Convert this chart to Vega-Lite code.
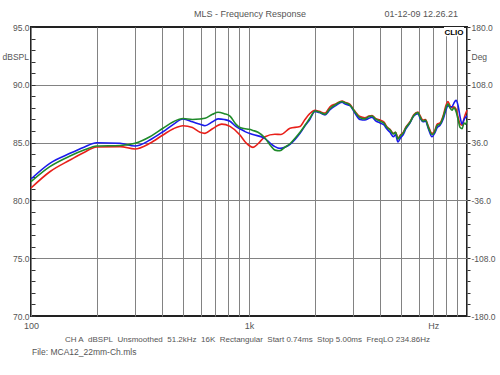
{
  "$schema": "https://vega.github.io/schema/vega-lite/v6.json",
  "width": 436,
  "height": 289,
  "autosize": {"type": "none"},
  "padding": {"left": 31, "top": 27, "right": 33, "bottom": 59},
  "background": "white",
  "config": {
    "view": {"stroke": "#222222", "strokeWidth": 2},
    "axis": {"labelFont": "Liberation Sans", "titleFont": "Liberation Sans", "labelColor": "#555555", "titleColor": "#555555", "labelFontSize": 9, "titleFontSize": 9, "titleFontWeight": "normal", "domain": false}
  },
  "layer": [
    {
      "layer": [
        {
          "data": {"values": [
            {"f":100,"db":81.07,"ch":"R"},{"f":122,"db":82.48,"ch":"R"},{"f":151,"db":83.49,"ch":"R"},{"f":175,"db":84.15,"ch":"R"},{"f":200,"db":84.62,"ch":"R"},{"f":256,"db":84.65,"ch":"R"},{"f":300,"db":84.45,"ch":"R"},{"f":351,"db":84.94,"ch":"R"},{"f":403,"db":85.66,"ch":"R"},{"f":450,"db":86.2,"ch":"R"},{"f":498,"db":86.46,"ch":"R"},{"f":550,"db":86.3,"ch":"R"},{"f":596,"db":85.89,"ch":"R"},{"f":628,"db":85.8,"ch":"R"},{"f":680,"db":86.2,"ch":"R"},{"f":750,"db":86.6,"ch":"R"},{"f":818,"db":86.4,"ch":"R"},{"f":909,"db":85.66,"ch":"R"},{"f":959,"db":85.08,"ch":"R"},{"f":1000,"db":84.75,"ch":"R"},{"f":1043,"db":84.59,"ch":"R"},{"f":1100,"db":84.9,"ch":"R"},{"f":1184,"db":85.51,"ch":"R"},{"f":1315,"db":85.72,"ch":"R"},{"f":1400,"db":85.7,"ch":"R"},{"f":1542,"db":86.24,"ch":"R"},{"f":1714,"db":86.4,"ch":"R"},{"f":1806,"db":87.0,"ch":"R"},{"f":1900,"db":87.5,"ch":"R"},{"f":2008,"db":87.8,"ch":"R"},
            {"f":2100,"db":87.7,"ch":"R"},{"f":2232,"db":87.55,"ch":"R"},{"f":2353,"db":88.1,"ch":"R"},{"f":2500,"db":88.35,"ch":"R"},{"f":2673,"db":88.6,"ch":"R"},{"f":2750,"db":88.5,"ch":"R"},{"f":2905,"db":88.3,"ch":"R"},{"f":3050,"db":87.75,"ch":"R"},{"f":3231,"db":87.25,"ch":"R"},{"f":3400,"db":87.15,"ch":"R"},{"f":3550,"db":87.3,"ch":"R"},{"f":3667,"db":87.35,"ch":"R"},{"f":3800,"db":87.1,"ch":"R"},{"f":3990,"db":86.95,"ch":"R"},{"f":4150,"db":86.8,"ch":"R"},{"f":4300,"db":86.35,"ch":"R"},{"f":4434,"db":86.15,"ch":"R"},{"f":4600,"db":85.8,"ch":"R"},{"f":4700,"db":85.9,"ch":"R"},{"f":4823,"db":85.4,"ch":"R"},{"f":4950,"db":85.65,"ch":"R"},{"f":5085,"db":85.85,"ch":"R"},{"f":5250,"db":86.35,"ch":"R"},{"f":5478,"db":86.8,"ch":"R"},{"f":5700,"db":87.4,"ch":"R"},{"f":5960,"db":87.65,"ch":"R"},{"f":6100,"db":87.3,"ch":"R"},{"f":6283,"db":86.95,"ch":"R"},{"f":6450,"db":87.0,"ch":"R"},{"f":6650,"db":86.4,"ch":"R"},{"f":6910,"db":85.8,"ch":"R"},{"f":7100,"db":86.0,"ch":"R"},{"f":7300,"db":86.6,"ch":"R"},{"f":7521,"db":86.7,"ch":"R"},{"f":7800,"db":87.4,"ch":"R"},{"f":8000,"db":88.2,"ch":"R"},{"f":8180,"db":88.55,"ch":"R"},{"f":8350,"db":88.2,"ch":"R"},{"f":8535,"db":88.0,"ch":"R"},{"f":8700,"db":88.1,"ch":"R"},{"f":8908,"db":87.9,"ch":"R"},{"f":9100,"db":87.2,"ch":"R"},{"f":9300,"db":86.6,"ch":"R"},{"f":9490,"db":86.5,"ch":"R"},{"f":9700,"db":87.1,"ch":"R"},{"f":9850,"db":87.5,"ch":"R"},{"f":10000,"db":87.8,"ch":"R"},
            {"f":100,"db":81.85,"ch":"B"},{"f":122,"db":83.21,"ch":"B"},{"f":151,"db":84.07,"ch":"B"},{"f":175,"db":84.6,"ch":"B"},{"f":200,"db":84.99,"ch":"B"},{"f":256,"db":84.94,"ch":"B"},{"f":300,"db":84.7,"ch":"B"},{"f":351,"db":85.22,"ch":"B"},{"f":403,"db":85.94,"ch":"B"},{"f":450,"db":86.58,"ch":"B"},{"f":498,"db":87.04,"ch":"B"},{"f":550,"db":86.8,"ch":"B"},{"f":596,"db":86.58,"ch":"B"},{"f":628,"db":86.46,"ch":"B"},{"f":680,"db":86.8,"ch":"B"},{"f":721,"db":87.05,"ch":"B"},{"f":770,"db":87.0,"ch":"B"},{"f":818,"db":86.85,"ch":"B"},{"f":870,"db":86.4,"ch":"B"},{"f":909,"db":86.2,"ch":"B"},{"f":959,"db":85.95,"ch":"B"},{"f":1043,"db":85.7,"ch":"B"},{"f":1184,"db":85.35,"ch":"B"},{"f":1260,"db":84.9,"ch":"B"},{"f":1315,"db":84.65,"ch":"B"},{"f":1387,"db":84.5,"ch":"B"},{"f":1460,"db":84.6,"ch":"B"},{"f":1542,"db":84.85,"ch":"B"},{"f":1630,"db":85.3,"ch":"B"},{"f":1714,"db":85.8,"ch":"B"},{"f":1806,"db":86.45,"ch":"B"},{"f":1900,"db":87.0,"ch":"B"},{"f":2008,"db":87.7,"ch":"B"},
            {"f":2100,"db":87.6,"ch":"B"},{"f":2232,"db":87.4,"ch":"B"},{"f":2353,"db":87.85,"ch":"B"},{"f":2500,"db":88.2,"ch":"B"},{"f":2673,"db":88.5,"ch":"B"},{"f":2750,"db":88.35,"ch":"B"},{"f":2905,"db":88.2,"ch":"B"},{"f":3050,"db":87.6,"ch":"B"},{"f":3231,"db":87.0,"ch":"B"},{"f":3400,"db":86.95,"ch":"B"},{"f":3550,"db":87.1,"ch":"B"},{"f":3667,"db":87.2,"ch":"B"},{"f":3800,"db":86.9,"ch":"B"},{"f":3990,"db":86.7,"ch":"B"},{"f":4150,"db":86.55,"ch":"B"},{"f":4300,"db":86.15,"ch":"B"},{"f":4434,"db":85.9,"ch":"B"},{"f":4600,"db":85.5,"ch":"B"},{"f":4700,"db":85.7,"ch":"B"},{"f":4823,"db":85.05,"ch":"B"},{"f":4950,"db":85.4,"ch":"B"},{"f":5085,"db":85.65,"ch":"B"},{"f":5250,"db":86.2,"ch":"B"},{"f":5478,"db":86.7,"ch":"B"},{"f":5700,"db":87.3,"ch":"B"},{"f":5960,"db":87.5,"ch":"B"},{"f":6100,"db":87.1,"ch":"B"},{"f":6283,"db":86.8,"ch":"B"},{"f":6450,"db":86.85,"ch":"B"},{"f":6650,"db":86.2,"ch":"B"},{"f":6910,"db":85.5,"ch":"B"},{"f":7100,"db":85.8,"ch":"B"},{"f":7300,"db":86.3,"ch":"B"},{"f":7521,"db":86.5,"ch":"B"},{"f":7800,"db":87.1,"ch":"B"},{"f":8000,"db":87.8,"ch":"B"},{"f":8180,"db":88.2,"ch":"B"},{"f":8350,"db":88.1,"ch":"B"},{"f":8535,"db":88.1,"ch":"B"},{"f":8700,"db":88.4,"ch":"B"},{"f":8908,"db":88.65,"ch":"B"},{"f":9100,"db":88.2,"ch":"B"},{"f":9300,"db":87.2,"ch":"B"},{"f":9490,"db":86.6,"ch":"B"},{"f":9700,"db":87.0,"ch":"B"},{"f":9850,"db":87.2,"ch":"B"},{"f":10000,"db":87.3,"ch":"B"},
            {"f":100,"db":81.62,"ch":"G"},{"f":122,"db":82.92,"ch":"G"},{"f":151,"db":83.84,"ch":"G"},{"f":175,"db":84.35,"ch":"G"},{"f":200,"db":84.71,"ch":"G"},{"f":256,"db":84.75,"ch":"G"},{"f":300,"db":84.94,"ch":"G"},{"f":351,"db":85.51,"ch":"G"},{"f":403,"db":86.24,"ch":"G"},{"f":450,"db":86.81,"ch":"G"},{"f":498,"db":87.08,"ch":"G"},{"f":550,"db":87.0,"ch":"G"},{"f":596,"db":87.04,"ch":"G"},{"f":628,"db":87.1,"ch":"G"},{"f":680,"db":87.45,"ch":"G"},{"f":721,"db":87.62,"ch":"G"},{"f":770,"db":87.5,"ch":"G"},{"f":818,"db":87.3,"ch":"G"},{"f":870,"db":86.6,"ch":"G"},{"f":909,"db":86.3,"ch":"G"},{"f":959,"db":86.2,"ch":"G"},{"f":1000,"db":86.15,"ch":"G"},{"f":1043,"db":86.05,"ch":"G"},{"f":1100,"db":85.9,"ch":"G"},{"f":1184,"db":85.4,"ch":"G"},{"f":1260,"db":84.7,"ch":"G"},{"f":1315,"db":84.35,"ch":"G"},{"f":1387,"db":84.3,"ch":"G"},{"f":1460,"db":84.6,"ch":"G"},{"f":1542,"db":84.9,"ch":"G"},{"f":1630,"db":85.4,"ch":"G"},{"f":1714,"db":85.9,"ch":"G"},{"f":1806,"db":86.5,"ch":"G"},{"f":1900,"db":87.1,"ch":"G"},{"f":2008,"db":87.73,"ch":"G"},
            {"f":2100,"db":87.65,"ch":"G"},{"f":2232,"db":87.45,"ch":"G"},{"f":2353,"db":87.95,"ch":"G"},{"f":2500,"db":88.3,"ch":"G"},{"f":2673,"db":88.55,"ch":"G"},{"f":2750,"db":88.45,"ch":"G"},{"f":2905,"db":88.25,"ch":"G"},{"f":3050,"db":87.7,"ch":"G"},{"f":3231,"db":87.15,"ch":"G"},{"f":3400,"db":87.05,"ch":"G"},{"f":3550,"db":87.25,"ch":"G"},{"f":3667,"db":87.3,"ch":"G"},{"f":3800,"db":87.05,"ch":"G"},{"f":3990,"db":86.85,"ch":"G"},{"f":4150,"db":86.7,"ch":"G"},{"f":4300,"db":86.3,"ch":"G"},{"f":4434,"db":86.1,"ch":"G"},{"f":4600,"db":85.75,"ch":"G"},{"f":4700,"db":85.9,"ch":"G"},{"f":4823,"db":85.3,"ch":"G"},{"f":4950,"db":85.6,"ch":"G"},{"f":5085,"db":85.8,"ch":"G"},{"f":5250,"db":86.3,"ch":"G"},{"f":5478,"db":86.75,"ch":"G"},{"f":5700,"db":87.35,"ch":"G"},{"f":5960,"db":87.6,"ch":"G"},{"f":6100,"db":87.2,"ch":"G"},{"f":6283,"db":86.85,"ch":"G"},{"f":6450,"db":86.95,"ch":"G"},{"f":6650,"db":86.3,"ch":"G"},{"f":6910,"db":85.7,"ch":"G"},{"f":7100,"db":85.9,"ch":"G"},{"f":7300,"db":86.5,"ch":"G"},{"f":7521,"db":86.6,"ch":"G"},{"f":7800,"db":87.3,"ch":"G"},{"f":8000,"db":88.0,"ch":"G"},{"f":8180,"db":88.35,"ch":"G"},{"f":8350,"db":88.0,"ch":"G"},{"f":8535,"db":87.8,"ch":"G"},{"f":8700,"db":88.0,"ch":"G"},{"f":8908,"db":87.7,"ch":"G"},{"f":9100,"db":87.0,"ch":"G"},{"f":9300,"db":86.3,"ch":"G"},{"f":9490,"db":86.2,"ch":"G"},{"f":9700,"db":86.7,"ch":"G"},{"f":9850,"db":86.6,"ch":"G"},{"f":10000,"db":86.9,"ch":"G"}
          ]},
          "mark": {"type": "line", "interpolate": "monotone", "strokeWidth": 1.6},
          "encoding": {
            "x": {"field": "f", "type": "quantitative",
              "scale": {"type": "log", "domain": [100, 10000], "nice": false},
              "axis": {
                "values": [100,200,300,400,500,600,700,800,900,1000,2000,3000,4000,5000,6000,7000,8000,9000,10000],
                "tickCount": 40,
                "labelExpr": "datum.value == 100 ? '100' : datum.value == 1000 ? '1k' : datum.value == 7000 ? 'Hz' : ''",
                "grid": true, "gridColor": "#828282", "gridWidth": 1,
                "ticks": false, "labelPadding": 5, "labelOverlap": false, "labelFlush": false, "labelBound": false,
                "title": "CH A\u00a0 dBSPL\u00a0 Unsmoothed\u00a0 51.2kHz\u00a0 16K\u00a0 Rectangular\u00a0 Start 0.74ms\u00a0 Stop 5.00ms\u00a0 FreqLO 234.86Hz",
                "titleX": 216, "titleY": 23, "titleAlign": "center", "titleBaseline": "middle", "titleFontSize": 8
              }
            },
            "y": {"field": "db", "type": "quantitative",
              "scale": {"domain": [70, 95], "nice": false, "zero": false},
              "axis": {
                "values": [70,71,72,73,74,75,76,77,78,79,80,81,82,83,84,85,86,87,88,89,90,91,92,93,94,95],
                "tickCount": 40,
                "labelExpr": "datum.value % 5 == 0 ? datum.value + '.0' : ''",
                "grid": true, "gridColor": "#828282",
                "gridOpacity": {"condition": {"test": "datum.value % 5 == 0 && datum.value > 70 && datum.value < 95", "value": 1}, "value": 0},
                "tickSize": -4, "tickColor": "#333333", "labelPadding": 6, "labelOverlap": false, "labelFlush": false, "labelBound": false, "labelFontSize": 8.5,
                "title": "dBSPL", "titleAngle": 0, "titleX": -29, "titleY": 29, "titleAlign": "left", "titleBaseline": "middle", "titleFontSize": 8.5
              }
            },
            "color": {"field": "ch", "type": "nominal", "legend": null,
              "scale": {"domain": ["R", "B", "G"], "range": ["#e8201a", "#1a1aeb", "#1f8a2a"]}}
          }
        },
        {
          "data": {"values": [{}]},
          "mark": {"type": "rect", "color": "white"},
          "encoding": {
            "x": {"datum": 7844, "type": "quantitative", "scale": {"type": "log", "domain": [100, 10000], "nice": false}},
            "x2": {"datum": 9690},
            "y": {"datum": 95, "type": "quantitative", "scale": {"domain": [70, 95], "nice": false, "zero": false}},
            "y2": {"datum": 94.2}
          }
        },
        {
          "data": {"values": [{}]},
          "mark": {"type": "text", "align": "center", "baseline": "middle", "font": "Liberation Sans", "fontSize": 8, "fontWeight": "bold", "color": "#000000"},
          "encoding": {
            "x": {"datum": 8715, "type": "quantitative", "scale": {"type": "log", "domain": [100, 10000], "nice": false}},
            "y": {"datum": 94.52, "type": "quantitative", "scale": {"domain": [70, 95], "nice": false, "zero": false}},
            "text": {"value": "CLIO"}
          }
        },
        {
          "data": {"values": [{}]},
          "mark": {"type": "text", "align": "center", "baseline": "middle", "font": "Liberation Sans", "fontSize": 9, "color": "#555555"},
          "encoding": {
            "x": {"datum": 1010, "type": "quantitative", "scale": {"type": "log", "domain": [100, 10000], "nice": false}},
            "y": {"datum": 96.12, "type": "quantitative", "scale": {"domain": [70, 95], "nice": false, "zero": false}},
            "text": {"value": "MLS - Frequency Response"}
          }
        },
        {
          "data": {"values": [{}]},
          "mark": {"type": "text", "align": "right", "baseline": "middle", "font": "Liberation Sans", "fontSize": 9, "color": "#555555"},
          "encoding": {
            "x": {"datum": 9094, "type": "quantitative", "scale": {"type": "log", "domain": [100, 10000], "nice": false}},
            "y": {"datum": 96.12, "type": "quantitative", "scale": {"domain": [70, 95], "nice": false, "zero": false}},
            "text": {"value": "01-12-09 12.26.21"}
          }
        },
        {
          "data": {"values": [{}]},
          "mark": {"type": "text", "align": "left", "baseline": "middle", "font": "Liberation Sans", "fontSize": 8.5, "color": "#555555", "dx": 1},
          "encoding": {
            "x": {"datum": 100, "type": "quantitative", "scale": {"type": "log", "domain": [100, 10000], "nice": false}},
            "y": {"datum": 66.89, "type": "quantitative", "scale": {"domain": [70, 95], "nice": false, "zero": false}},
            "text": {"value": "File: MCA12_22mm-Ch.mls"}
          }
        }
      ]
    },
    {
      "data": {"values": [{}]},
      "mark": {"type": "rule", "opacity": 0},
      "encoding": {
        "y": {"datum": 0, "type": "quantitative",
          "scale": {"domain": [-180, 180], "nice": false, "zero": false},
          "axis": {
            "orient": "right",
            "values": [-180,-165.6,-151.2,-136.8,-122.4,-108,-93.6,-79.2,-64.8,-50.4,-36,-21.6,-7.2,7.2,21.6,36,50.4,64.8,79.2,93.6,108,122.4,136.8,151.2,165.6,180],
            "tickCount": 40,
            "labelExpr": "indexof([-180,-108,-36,36,108,180], datum.value) >= 0 ? datum.value + '.0' : ''",
            "grid": false, "tickSize": 3, "tickColor": "#333333", "labelPadding": 1, "labelOverlap": false, "labelFlush": false, "labelBound": false, "labelFontSize": 8.5,
            "title": "Deg", "titleAngle": 0, "titleX": 4, "titleY": 29, "titleAlign": "left", "titleBaseline": "middle", "titleFontSize": 8.5
          }
        }
      }
    }
  ],
  "resolve": {"scale": {"y": "independent"}, "axis": {"y": "independent"}}
}
